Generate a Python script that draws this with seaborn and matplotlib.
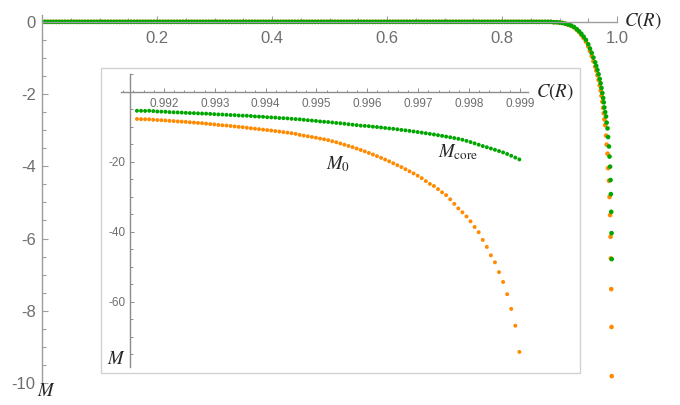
import matplotlib
matplotlib.use("Agg")
import matplotlib.pyplot as plt
from matplotlib.patches import Rectangle
from matplotlib.ticker import FixedLocator, MultipleLocator
import numpy as np
import pandas as pd
import seaborn as sns

# ---------------------------------------------------------------- data
# plateau where both masses vanish
flat_c = [
    0.005, 0.010, 0.015, 0.020, 0.025, 0.030, 0.035, 0.040, 0.045, 0.050,
    0.055, 0.060, 0.065, 0.070, 0.075, 0.080, 0.085, 0.090, 0.095, 0.100,
    0.105, 0.110, 0.115, 0.120, 0.125, 0.130, 0.135, 0.140, 0.145, 0.150,
    0.155, 0.160, 0.165, 0.170, 0.175, 0.180, 0.185, 0.190, 0.195, 0.200,
    0.205, 0.210, 0.215, 0.220, 0.225, 0.230, 0.235, 0.240, 0.245, 0.250,
    0.255, 0.260, 0.265, 0.270, 0.275, 0.280, 0.285, 0.290, 0.295, 0.300,
    0.305, 0.310, 0.315, 0.320, 0.325, 0.330, 0.335, 0.340, 0.345, 0.350,
    0.355, 0.360, 0.365, 0.370, 0.375, 0.380, 0.385, 0.390, 0.395, 0.400,
    0.405, 0.410, 0.415, 0.420, 0.425, 0.430, 0.435, 0.440, 0.445, 0.450,
    0.455, 0.460, 0.465, 0.470, 0.475, 0.480, 0.485, 0.490, 0.495, 0.500,
    0.505, 0.510, 0.515, 0.520, 0.525, 0.530, 0.535, 0.540, 0.545, 0.550,
    0.555, 0.560, 0.565, 0.570, 0.575, 0.580, 0.585, 0.590, 0.595, 0.600,
    0.605, 0.610, 0.615, 0.620, 0.625, 0.630, 0.635, 0.640, 0.645, 0.650,
    0.655, 0.660, 0.665, 0.670, 0.675, 0.680, 0.685, 0.690, 0.695, 0.700,
    0.705, 0.710, 0.715, 0.720, 0.725, 0.730, 0.735, 0.740, 0.745, 0.750,
    0.755, 0.760, 0.765, 0.770, 0.775, 0.780, 0.785, 0.790, 0.795, 0.800,
    0.805, 0.810, 0.815, 0.820, 0.825, 0.830, 0.835, 0.840, 0.845, 0.850,
    0.855, 0.860, 0.865, 0.870, 0.875, 0.880,
]
flat_m = [
    0, 0, 0, 0, 0, 0, 0, 0, 0, 0, 0, 0, 0, 0, 0, 0, 0, 0, 0, 0,
    0, 0, 0, 0, 0, 0, 0, 0, 0, 0, 0, 0, 0, 0, 0, 0, 0, 0, 0, 0,
    0, 0, 0, 0, 0, 0, 0, 0, 0, 0, 0, 0, 0, 0, 0, 0, 0, 0, 0, 0,
    0, 0, 0, 0, 0, 0, 0, 0, 0, 0, 0, 0, 0, 0, 0, 0, 0, 0, 0, 0,
    0, 0, 0, 0, 0, 0, 0, 0, 0, 0, 0, 0, 0, 0, 0, 0, 0, 0, 0, 0,
    0, 0, 0, 0, 0, 0, 0, 0, 0, 0, 0, 0, 0, 0, 0, 0, 0, 0, 0, 0,
    0, 0, 0, 0, 0, 0, 0, 0, 0, 0, 0, 0, 0, 0, 0, 0, 0, 0, 0, 0,
    0, 0, 0, 0, 0, 0, 0, 0, 0, 0, 0, 0, 0, 0, 0, 0, 0, 0, 0, 0,
    0, 0, 0, 0, 0, 0, 0, 0, 0, 0, 0, 0, 0, 0, 0, 0,
]

# the drop towards C(R) -> 1
curve_c = [
    0.885, 0.890, 0.895, 0.900, 0.905, 0.910, 0.915, 0.920, 0.925, 0.930,
    0.934, 0.938, 0.942, 0.946, 0.950, 0.953, 0.956, 0.959, 0.962, 0.964,
    0.966, 0.968, 0.970, 0.9715, 0.973, 0.9745, 0.976, 0.977, 0.978, 0.9795,
    0.981, 0.982, 0.9835, 0.9845, 0.986, 0.987, 0.988, 0.9888, 0.9893, 0.990,
    0.9905, 0.9908,
]
curve_m0 = [
    -0.00, -0.01, -0.01, -0.02, -0.03, -0.05, -0.08, -0.11, -0.15, -0.22,
    -0.28, -0.36, -0.45, -0.55, -0.68, -0.81, -0.95, -1.09, -1.24, -1.35,
    -1.48, -1.61, -1.76, -1.90, -2.05, -2.21, -2.38, -2.53, -2.70, -2.86,
    -3.15, -3.40, -3.65, -4.05, -4.40, -4.85, -5.35, -5.95, -6.55, -7.40,
    -8.45, -9.81,
]
curve_mcore = [
    -0.00, -0.01, -0.01, -0.02, -0.03, -0.05, -0.07, -0.10, -0.14, -0.20,
    -0.26, -0.33, -0.41, -0.50, -0.62, -0.74, -0.86, -0.99, -1.12, -1.22,
    -1.33, -1.45, -1.58, -1.70, -1.83, -1.97, -2.11, -2.23, -2.37, -2.50,
    -2.62, -2.79, -2.95, -3.19, -3.45, -3.73, -4.01, -4.38, -4.77, -5.26,
    -5.85, -6.57,
]

# zoomed range close to C(R) = 1
zoom_c = [
    0.99147, 0.99155, 0.99163, 0.99171, 0.99179, 0.99187, 0.99195, 0.99203,
    0.99211, 0.99219, 0.99227, 0.99235, 0.99243, 0.99251, 0.99259, 0.99267,
    0.99275, 0.99283, 0.99291, 0.99299, 0.99307, 0.99315, 0.99323, 0.99331,
    0.99339, 0.99347, 0.99355, 0.99363, 0.99371, 0.99379, 0.99387, 0.99395,
    0.99403, 0.99411, 0.99419, 0.99427, 0.99435, 0.99443, 0.99451, 0.99459,
    0.99467, 0.99475, 0.99483, 0.99491, 0.99499, 0.99507, 0.99515, 0.99523,
    0.99531, 0.99539, 0.99547, 0.99555, 0.99563, 0.99571, 0.99579, 0.99587,
    0.99595, 0.99603, 0.99611, 0.99619, 0.99627, 0.99635, 0.99643, 0.99651,
    0.99659, 0.99667, 0.99675, 0.99683, 0.99691, 0.99699, 0.99707, 0.99715,
    0.99723, 0.99731, 0.99739, 0.99747, 0.99755, 0.99763, 0.99771, 0.99779,
    0.99787, 0.99795, 0.99803, 0.99811, 0.99819, 0.99827, 0.99835, 0.99843,
    0.99851, 0.99859, 0.99867, 0.99875, 0.99883, 0.99891, 0.99899,
]
zoom_m0 = [
    -7.75, -7.80, -7.82, -7.85, -7.98, -8.05, -8.10, -8.18, -8.28, -8.35,
    -8.45, -8.50, -8.58, -8.70, -8.78, -8.88, -8.95, -9.08, -9.20, -9.30,
    -9.45, -9.55, -9.62, -9.75, -9.88, -10.00, -10.10, -10.25, -10.40, -10.52,
    -10.65, -10.80, -10.92, -11.05, -11.20, -11.35, -11.50, -11.65, -11.82, -12.00,
    -12.30, -12.50, -12.70, -12.90, -13.10, -13.35, -13.55, -13.80, -14.10, -14.40,
    -14.75, -15.10, -15.45, -15.80, -16.20, -16.60, -17.00, -17.45, -17.90, -18.35,
    -18.85, -19.35, -19.85, -20.40, -20.95, -21.50, -22.10, -22.70, -23.30, -23.95,
    -24.65, -25.50, -26.30, -26.90, -27.80, -28.70, -29.50, -30.70, -32.00, -33.30,
    -34.40, -35.60, -37.00, -38.60, -40.10, -42.30, -44.30, -46.70, -48.70, -51.50,
    -54.30, -57.80, -62.00, -66.80, -74.30,
]
zoom_mcore = [
    -5.40, -5.42, -5.45, -5.40, -5.50, -5.62, -5.65, -5.68, -5.80, -5.85,
    -5.88, -5.92, -6.00, -6.05, -6.08, -6.15, -6.20, -6.22, -6.30, -6.38,
    -6.45, -6.48, -6.55, -6.62, -6.65, -6.75, -6.80, -6.82, -6.90, -7.02,
    -7.08, -7.12, -7.25, -7.30, -7.35, -7.48, -7.52, -7.58, -7.70, -7.78,
    -7.85, -7.98, -8.10, -8.20, -8.30, -8.45, -8.55, -8.62, -8.75, -8.88,
    -8.98, -9.10, -9.25, -9.38, -9.50, -9.65, -9.72, -9.80, -9.95, -10.05,
    -10.18, -10.32, -10.45, -10.55, -10.70, -10.88, -11.00, -11.15, -11.32, -11.48,
    -11.65, -11.82, -12.00, -12.18, -12.38, -12.58, -12.78, -12.98, -13.20, -13.42,
    -13.68, -14.00, -14.35, -14.72, -15.10, -15.48, -15.82, -16.18, -16.55, -16.92,
    -17.30, -17.75, -18.25, -18.78, -19.30,
]

main_xticks = [0.2, 0.4, 0.6, 0.8, 1.0]
main_xticklabels = ["0.2", "0.4", "0.6", "0.8", "1.0"]
main_yticks = [0, -2, -4, -6, -8, -10]
main_yticklabels = ["0", "-2", "-4", "-6", "-8", "-10"]
zoom_xticks = [0.992, 0.993, 0.994, 0.995, 0.996, 0.997, 0.998, 0.999]
zoom_xticklabels = ["0.992", "0.993", "0.994", "0.995", "0.996", "0.997", "0.998", "0.999"]
zoom_yticks = [-20, -40, -60]
zoom_yticklabels = ["-20", "-40", "-60"]

# ---------------------------------------------------------------- style
sns.set_theme(style="white")
plt.rcParams["font.family"] = ["Liberation Sans", "DejaVu Sans"]
plt.rcParams["mathtext.fontset"] = "stix"

ORANGE = "#ff8a00"
GREEN = "#00a600"
AXIS = "#9d9d9d"
LABEL = "#6e6e6e"
PALETTE = {"M0": ORANGE, "Mcore": GREEN}

W, H = 680, 405
fig = plt.figure(figsize=(W / 100, H / 100), dpi=100, facecolor="white")


def px_box(x0, y0, x1, y1):
    """Figure-fraction box from pixel edges (origin top-left)."""
    return [x0 / W, 1 - y1 / H, (x1 - x0) / W, (y1 - y0) / H]


def long_frame(c_m0, m_m0, c_core, m_core):
    return pd.DataFrame({
        "C": list(c_m0) + list(c_core),
        "M": list(m_m0) + list(m_core),
        "series": ["M0"] * len(c_m0) + ["Mcore"] * len(c_core),
    })


def style_axes(a, x0, y0, color):
    for side in ("top", "right"):
        a.spines[side].set_visible(False)
    a.spines["left"].set_position(("data", x0))
    a.spines["bottom"].set_position(("data", y0))
    for side in ("left", "bottom"):
        a.spines[side].set_color(color)
        a.spines[side].set_linewidth(1.0)
    a.set_xlabel("")
    a.set_ylabel("")
    a.patch.set_alpha(0)
    a.tick_params(which="both", bottom=True, left=True, top=False, right=False)


# ---------------------------------------------------------------- main axes
ax = fig.add_axes(px_box(42, 15, 617, 383))
main_df = long_frame(flat_c + curve_c, flat_m + curve_m0,
                     flat_c + curve_c, flat_m + curve_mcore)
sns.scatterplot(data=main_df, x="C", y="M", hue="series", palette=PALETTE,
                s=11, linewidth=0, legend=False, ax=ax, clip_on=False)
ax.set_xlim(0, 1.0)
ax.set_ylim(-10, 0.19)
style_axes(ax, 0, 0, AXIS)
ax.set_xticks(main_xticks)
ax.set_xticklabels(main_xticklabels)
ax.set_yticks(main_yticks)
ax.set_yticklabels(main_yticklabels)
ax.xaxis.set_minor_locator(MultipleLocator(0.05))
ax.yaxis.set_minor_locator(MultipleLocator(0.5))
ax.tick_params(which="major", direction="in", length=4.6, width=0.8,
               color=AXIS, labelcolor=LABEL, labelsize=12)
ax.tick_params(which="minor", direction="in", length=2.8, width=0.8, color=AXIS)
ax.tick_params(axis="x", which="major", pad=6.5)
ax.tick_params(axis="y", which="major", pad=4.5)

fig.text(643 / W, 1 - 21 / H, r"$C(R)$", fontsize=13.5, ha="center", va="center")
fig.text(46 / W, 1 - 392 / H, r"$M$", fontsize=13.5, ha="center", va="center")

# ---------------------------------------------------------------- inset
frame = Rectangle((101 / W, 1 - 373 / H), (580 - 101) / W, (373 - 68) / H,
                  transform=fig.transFigure, facecolor="white",
                  edgecolor="#d2d2d2", linewidth=1.0, zorder=1)
fig.add_artist(frame)

axin = fig.add_axes(px_box(120.7, 74, 528, 367))
axin.set_zorder(2)
zoom_df = long_frame(zoom_c, zoom_m0, zoom_c, zoom_mcore)
sns.scatterplot(data=zoom_df, x="C", y="M", hue="series", palette=PALETTE,
                s=8, linewidth=0, legend=False, ax=axin)
axin.set_xlim(0.99115, 0.99916)
axin.set_ylim(-78.6, 5.1)
style_axes(axin, 0.99133, 0, "#8c8c8c")
axin.set_xticks(zoom_xticks)
axin.set_xticklabels(zoom_xticklabels)
axin.set_yticks(zoom_yticks)
axin.set_yticklabels(zoom_yticklabels)
axin.xaxis.set_minor_locator(FixedLocator(np.arange(0.9912, 0.99912, 0.0002)))
axin.yaxis.set_minor_locator(FixedLocator(np.arange(-75, 6, 5)))
axin.tick_params(which="major", direction="in", length=3.2, width=0.7,
                 color="#8c8c8c", labelcolor=LABEL, labelsize=8.5)
axin.tick_params(which="minor", direction="in", length=1.8, width=0.7, color="#8c8c8c")
axin.tick_params(axis="x", which="major", pad=4.5)
axin.tick_params(axis="y", which="major", pad=3.0)

axin.text(0.99542, -20.6, r"$M_0$", fontsize=13.5, ha="center", va="center")
axin.text(0.99779, -17.1, r"$M_{\rm core}$", fontsize=13.5, ha="center", va="center")
fig.text(555 / W, 1 - 92 / H, r"$C(R)$", fontsize=13.5, ha="center", va="center")
fig.text(116 / W, 1 - 360 / H, r"$M$", fontsize=13.5, ha="center", va="center")

fig.savefig("out.png", dpi=100, facecolor="white")
